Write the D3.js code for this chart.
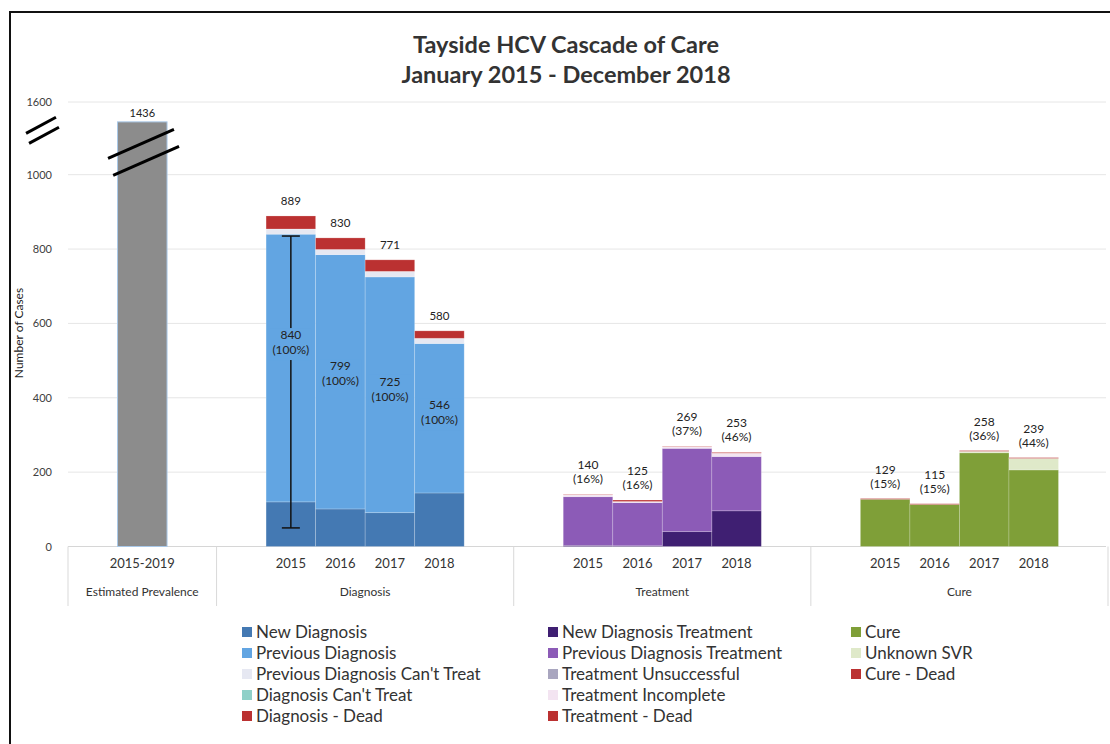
<!DOCTYPE html>
<html>
<head>
<meta charset="utf-8">
<script src="https://d3js.org/d3.v7.min.js"></script>
<style>
body { margin:0; background:#fff; }
text { font-family: Lato, "Open Sans", sans-serif; fill:#333; }
</style>
</head>
<body>
<script>
var width=1110,height=744;

// categories
var groups = ["Estimated Prevalence","Diagnosis","Treatment","Cure"];
var prevalenceYears = ["2015-2019"];
var years = ["2015","2016","2017","2018"];
var yTicks = [0,200,400,600,800,1000,1600];

// estimated prevalence
var prevalence = [1436];

// diagnosis stack
var newDiagnosis      = [120, 101, 91, 144];
var previousDiagnosis = [720, 684, 634, 402];
var prevDiagCantTreat = [14, 14, 15, 14];
var diagCantTreat     = [0, 0, 0, 0];
var diagDead          = [35, 31, 31, 20];
var diagTotal = [889, 830, 771, 580];
var diagAlive = [840, 799, 725, 546];
var diagPct   = ["100%","100%","100%","100%"];
var diagRange = [50, 835]; // whisker drawn on 2015

// treatment stack
var newDiagTreat      = [3, 2, 40, 96];
var prevDiagTreat     = [131, 116, 224, 146];
var treatUnsuccessful = [0, 0, 0, 0];
var treatIncomplete   = [5, 3, 4, 9];
var treatDead         = [1, 4, 1, 2];
var treatTotal = [140, 125, 269, 253];
var treatPct   = ["16%","16%","37%","46%"];

// cure stack
var cure       = [127, 113, 252, 206];
var unknownSVR = [0, 0, 4, 31];
var cureDead   = [2, 2, 2, 2];
var cureTotal = [129, 115, 258, 239];
var curePct   = ["15%","15%","36%","44%"];

var diagKeys = [
	{name:"New Diagnosis", color:"#4479b3", values:newDiagnosis},
	{name:"Previous Diagnosis", color:"#62a5e2", values:previousDiagnosis},
	{name:"Previous Diagnosis Can't Treat", color:"#e6e8f2", values:prevDiagCantTreat},
	{name:"Diagnosis Can't Treat", color:"#8fd0c8", values:diagCantTreat},
	{name:"Diagnosis - Dead", color:"#bb3131", values:diagDead}
];
var treatKeys = [
	{name:"New Diagnosis Treatment", color:"#3f1f72", values:newDiagTreat},
	{name:"Previous Diagnosis Treatment", color:"#8c5bb7", values:prevDiagTreat},
	{name:"Treatment Unsuccessful", color:"#a9a6bf", values:treatUnsuccessful},
	{name:"Treatment Incomplete", color:"#f3e4f1", values:treatIncomplete},
	{name:"Treatment - Dead", color:"#bb3131", values:treatDead}
];
var cureKeys = [
	{name:"Cure", color:"#7f9f38", values:cure},
	{name:"Unknown SVR", color:"#dfe9c9", values:unknownSVR},
	{name:"Cure - Dead", color:"#bb3131", values:cureDead}
];

var svg = d3.select("body")
	.append("svg")
	.attr("width", width)
	.attr("height", height);

// frame
svg.append("rect")
	.attr("x", 10).attr("y", 12)
	.attr("width", 1120).attr("height", 760)
	.attr("fill", "none").attr("stroke", "#111").attr("stroke-width", 2);

// title
svg.append("text").attr("x", 566).attr("y", 53).attr("text-anchor", "middle")
	.style("font-size", "23.5px").style("font-weight", "bold").style("fill", "#333")
	.text("Tayside HCV Cascade of Care");
svg.append("text").attr("x", 566).attr("y", 83).attr("text-anchor", "middle")
	.style("font-size", "23.5px").style("font-weight", "bold").style("fill", "#333")
	.text("January 2015 - December 2018");

// scales: broken y axis between 1000 and 1600
var y = d3.scaleLinear().domain([0,1000,1600]).range([546.5,174.7,102]);

var slots = [];
groups.forEach(function(g, i){
	var cats = i == 0 ? prevalenceYears : years;
	slots.push(g+"|pad0");
	cats.forEach(function(c){ slots.push(g+"|"+c); });
	slots.push(g+"|pad1");
});
var x = d3.scaleBand().domain(slots).range([68,1108]).padding(0);
var bw = x.bandwidth();

// gridlines
svg.append("g").selectAll("line")
	.data(yTicks)
	.enter().append("line")
	.attr("x1", 68).attr("x2", 1106)
	.attr("y1", function(d){ return y(d); })
	.attr("y2", function(d){ return y(d); })
	.attr("stroke", function(d){ return d == 0 ? "#d6d6d6" : "#e6e6e6"; })
	.attr("stroke-width", 1);

// y tick labels
svg.append("g").selectAll("text")
	.data(yTicks)
	.enter().append("text")
	.attr("x", 52)
	.attr("y", function(d){ return y(d) + 4; })
	.attr("text-anchor", "end")
	.style("font-size", "11px").style("fill", "#404040")
	.text(function(d){ return d; });

svg.append("text")
	.attr("transform", "translate(23,333) rotate(-90)")
	.attr("text-anchor", "middle")
	.style("font-size", "12px").style("fill", "#222")
	.text("Number of Cases");

// group separators on category axis
var bounds = groups.map(function(g){ return x(g+"|pad0"); });
bounds.push(1108);
svg.append("g").selectAll("line")
	.data(bounds)
	.enter().append("line")
	.attr("x1", function(d){ return d; }).attr("x2", function(d){ return d; })
	.attr("y1", y(0)).attr("y2", 606)
	.attr("stroke", "#d9d9d9");

// category labels
var catLabels = [];
groups.forEach(function(g, i){
	(i == 0 ? prevalenceYears : years).forEach(function(c){ catLabels.push({g:g, c:c}); });
});
svg.append("g").selectAll("text")
	.data(catLabels)
	.enter().append("text")
	.attr("x", function(d){ return x(d.g+"|"+d.c) + bw/2; })
	.attr("y", 568)
	.attr("text-anchor", "middle")
	.style("font-size", "13px").style("fill", "#333")
	.text(function(d){ return d.c; });

svg.append("g").selectAll("text")
	.data(groups)
	.enter().append("text")
	.attr("x", function(d){ return (x(d+"|pad0") + x(d+"|pad1") + bw)/2; })
	.attr("y", 596)
	.attr("text-anchor", "middle")
	.style("font-size", "12px").style("fill", "#333")
	.text(function(d){ return d; });

// estimated prevalence bar
svg.append("g").selectAll("rect")
	.data(prevalence)
	.enter().append("rect")
	.attr("x", x(groups[0]+"|"+prevalenceYears[0]))
	.attr("y", function(d){ return y(d); })
	.attr("width", bw)
	.attr("height", function(d){ return y(0) - y(d); })
	.attr("fill", "#8c8c8c")
	.attr("stroke", "#a9c8e8").attr("stroke-width", 1);

svg.append("g").selectAll("text")
	.data(prevalence)
	.enter().append("text")
	.attr("x", x(groups[0]+"|"+prevalenceYears[0]) + bw/2)
	.attr("y", function(d){ return y(d) - 5; })
	.attr("text-anchor", "middle")
	.style("font-size", "11px").style("fill", "#222")
	.text(function(d){ return d; });

// break marks
function breakMark(cx, cy, len, slope, gap){
	[0, gap].forEach(function(off){
		var dx = len/2/Math.sqrt(1+slope*slope);
		svg.append("line")
			.attr("x1", cx - dx + off*0.3).attr("y1", cy + off + dx*slope)
			.attr("x2", cx + dx + off*0.3).attr("y2", cy + off - dx*slope)
			.attr("stroke", "#000").attr("stroke-width", 3);
	});
}
breakMark(41, y(1350) - 7, 34, 0.54, 10);
breakMark(141, y(1180) - 9, 72, 0.44, 17);

// stacked bars
function drawStack(group, keys){
	var rows = years.map(function(yr, i){
		var r = {year: yr};
		keys.forEach(function(k){ r[k.name] = k.values[i]; });
		return r;
	});
	var stacked = d3.stack().keys(keys.map(function(k){ return k.name; }))(rows);
	svg.append("g").selectAll("g")
		.data(stacked)
		.enter().append("g")
		.attr("fill", function(d, i){ return keys[i].color; })
		.selectAll("rect")
		.data(function(d){ return d; })
		.enter().append("rect")
		.attr("x", function(d){ return x(group+"|"+d.data.year); })
		.attr("y", function(d){ return y(d[1]); })
		.attr("width", bw)
		.attr("height", function(d){ return y(d[0]) - y(d[1]); })
		.attr("stroke", "rgba(255,255,255,0.25)").attr("stroke-width", 0.8);
}
drawStack("Diagnosis", diagKeys);
drawStack("Treatment", treatKeys);
drawStack("Cure", cureKeys);

// whisker on diagnosis 2015
var wx = x("Diagnosis|"+years[0]) + bw/2;
svg.append("line").attr("x1", wx).attr("x2", wx)
	.attr("y1", y(diagRange[0])).attr("y2", y(diagRange[1]))
	.attr("stroke", "#111").attr("stroke-width", 1.5);
diagRange.forEach(function(v){
	svg.append("line").attr("x1", wx-9).attr("x2", wx+9)
		.attr("y1", y(v)).attr("y2", y(v))
		.attr("stroke", "#111").attr("stroke-width", 1.5);
});

// diagnosis labels
svg.append("g").selectAll("text")
	.data(diagTotal)
	.enter().append("text")
	.attr("x", function(d, i){ return x("Diagnosis|"+years[i]) + bw/2; })
	.attr("y", function(d){ return y(d) - 11; })
	.attr("text-anchor", "middle")
	.style("font-size", "11.5px").style("fill", "#222")
	.text(function(d){ return d; });

var inner = svg.append("g").selectAll("g")
	.data(diagAlive)
	.enter().append("g")
	.attr("transform", function(d, i){
		var cy = y((newDiagnosis[i] + d)/2) - (i == 0 ? 34 : 14);
		return "translate(" + (x("Diagnosis|"+years[i]) + bw/2) + "," + cy + ")";
	});
inner.append("rect")
	.attr("x", -21).attr("y", -6).attr("width", 42).attr("height", 32)
	.attr("fill", diagKeys[1].color);
inner.append("text")
	.attr("y", 5).attr("text-anchor", "middle")
	.style("font-size", "12px").style("fill", "#222")
	.text(function(d){ return d; });
inner.append("text")
	.attr("y", 20).attr("text-anchor", "middle")
	.style("font-size", "12px").style("fill", "#222")
	.text(function(d, i){ return "(" + diagPct[i] + ")"; });

// treatment / cure labels
function topLabels(group, totals, pcts){
	var g = svg.append("g").selectAll("g")
		.data(totals)
		.enter().append("g")
		.attr("transform", function(d, i){
			return "translate(" + (x(group+"|"+years[i]) + bw/2) + "," + y(d) + ")";
		});
	g.append("text").attr("y", -25).attr("text-anchor", "middle")
		.style("font-size", "12px").style("fill", "#222")
		.text(function(d){ return d; });
	g.append("text").attr("y", -11).attr("text-anchor", "middle")
		.style("font-size", "12px").style("fill", "#222")
		.text(function(d, i){ return "(" + pcts[i] + ")"; });
}
topLabels("Treatment", treatTotal, treatPct);
topLabels("Cure", cureTotal, curePct);

// legend
var legendCols = [diagKeys, treatKeys, cureKeys];
var legendX = [242, 548, 851];
legendCols.forEach(function(keys, c){
	var item = svg.append("g").selectAll("g")
		.data(keys)
		.enter().append("g")
		.attr("transform", function(d, i){ return "translate(" + legendX[c] + "," + (632 + i*21) + ")"; });
	item.append("rect")
		.attr("x", 0).attr("y", -5).attr("width", 10).attr("height", 10)
		.attr("fill", function(d){ return d.color; });
	item.append("text")
		.attr("x", 14).attr("y", 6)
		.style("font-size", "17px").style("fill", "#333")
		.text(function(d){ return d.name; });
});
</script>
</body>
</html>
